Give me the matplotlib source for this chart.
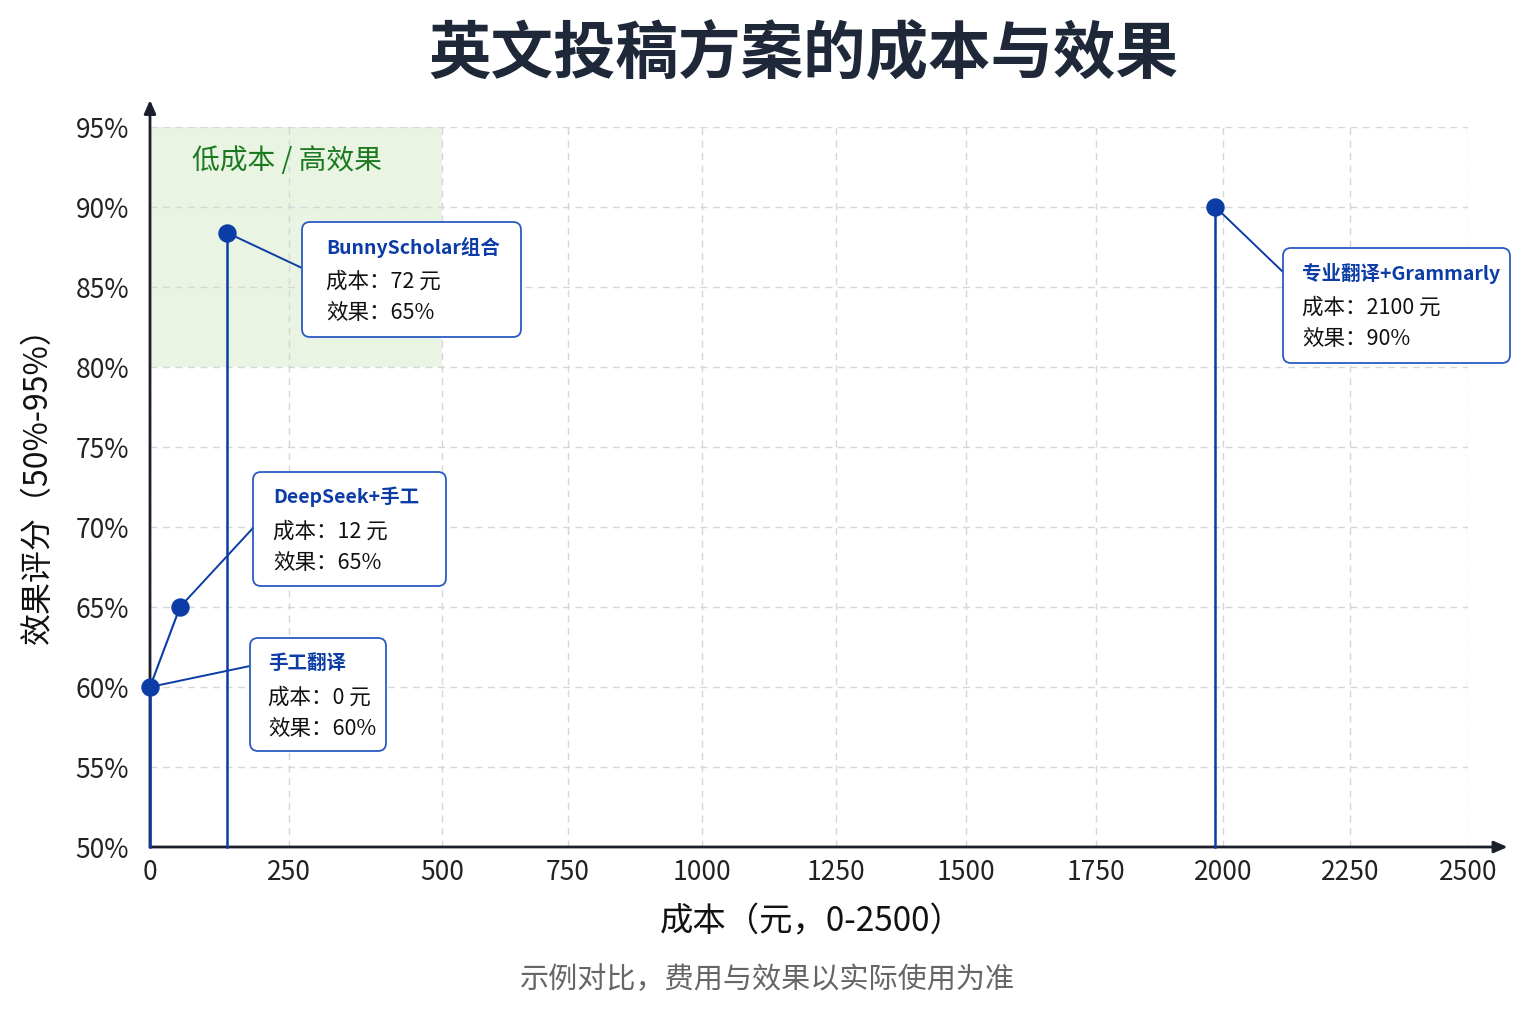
# 英文投稿方案的成本与效果 散点+标注图

import matplotlib
matplotlib.use("Agg")
import numpy as np
import matplotlib.pyplot as plt
from matplotlib.patches import FancyBboxPatch, Rectangle

plt.rcParams['font.family'] = ['Noto Sans CJK SC', 'DejaVu Sans']

# 数据（点的位置按图上读取）
names = ['手工翻译', 'DeepSeek+手工', 'BunnyScholar组合', '专业翻译+Grammarly']
costs = [0, 54, 138, 1985]
scores = [60, 65, 88.4, 90]
cost_labels = ['0 元', '12 元', '72 元', '2100 元']
score_labels = ['60%', '65%', '65%', '90%']
has_drop = [True, False, True, True]

x_ticks = [0, 250, 500, 750, 1000, 1250, 1500, 1750, 2000, 2250, 2500]
y_ticks = [50, 55, 60, 65, 70, 75, 80, 85, 90, 95]

# 原图横轴刻度间距不均匀，用分段线性刻度还原（像素位置）
x_tick_px = [150, 289, 442, 568, 702, 836, 966, 1096, 1223, 1350, 1468]

# 标注框位置（像素，左上角为原点）：左、上、右、下、连线在框上的 y、文字左边距
boxes = [
    (250, 638, 386, 751, 666, 18),
    (253, 472, 446, 586, 528, 20),
    (302, 222, 521, 337, 268, 24),
    (1283, 248, 1510, 363, 272, 19),
]

blue = '#0c3ca6'
edge_blue = '#2a5bc4'
W, H = 1536, 1024

fig = plt.figure(figsize=(15.36, 10.24), dpi=100)
ax = fig.add_axes([150 / W, 1 - 847 / H, 1318 / W, 720 / H])

_pos = np.array(x_tick_px, dtype=float)
_val = np.array(x_ticks, dtype=float)
ax.set_xscale('function', functions=(lambda v: np.interp(v, _val, _pos),
                                     lambda p: np.interp(p, _pos, _val)))
ax.set_xlim(0, 2500)
ax.set_ylim(50, 95)

# 低成本 / 高效果 区域
ax.add_patch(Rectangle((0, 80), 500, 15, facecolor='#e9f4e2', edgecolor='none', zorder=0))
ax.text(75, 92.9, '低成本 / 高效果', color='#1b7a1f', fontsize=20, va='center', ha='left')

# 网格
ax.set_xticks(x_ticks)
ax.set_yticks(y_ticks)
ax.set_xticklabels([str(v) for v in x_ticks])
ax.set_yticklabels(['%d%%' % v for v in y_ticks])
ax.minorticks_off()
ax.grid(True, linestyle=(0, (5, 4)), color='#d6d6d6', linewidth=1.0, zorder=0)
ax.tick_params(axis='x', length=0, labelsize=19, colors='#222222', pad=9)
ax.tick_params(axis='y', length=0, labelsize=19, colors='#222222', pad=15)

for s in ['top', 'right', 'left', 'bottom']:
    ax.spines[s].set_visible(False)

# 坐标轴箭头
ax.annotate('', xy=(1.03, 0), xycoords='axes fraction', xytext=(0, 0),
            arrowprops=dict(arrowstyle='-|>,head_length=0.8,head_width=0.35', color='#1a1f2b', lw=2,
                            shrinkA=0, shrinkB=0), annotation_clip=False)
ax.annotate('', xy=(0, 1.0375), xycoords='axes fraction', xytext=(0, 0),
            arrowprops=dict(arrowstyle='-|>,head_length=0.8,head_width=0.35', color='#1a1f2b', lw=2,
                            shrinkA=0, shrinkB=0), annotation_clip=False)

# 垂线与连线
for c, s, d in zip(costs, scores, has_drop):
    if d:
        ax.plot([c, c], [50, s], color=blue, lw=1.8, zorder=3, clip_on=False)
ax.plot(costs[:2], scores[:2], color=blue, lw=1.5, zorder=3, clip_on=False)

ax.scatter(costs, scores, s=150, color=blue, zorder=5, clip_on=False)


def px(x, y):
    return x / 100, (H - y) / 100


def fx(x, y):
    return x / W, 1 - y / H


# 标注框
for name, c, s, cl, sl, b in zip(names, costs, scores, cost_labels, score_labels, boxes):
    l, t, r, btm, cy, pad = b
    x0, y0 = px(l, btm)
    patch = FancyBboxPatch((x0, y0), (r - l) / 100, (btm - t) / 100,
                           boxstyle='round,pad=0,rounding_size=0.08',
                           transform=fig.dpi_scale_trans, facecolor='white',
                           edgecolor=edge_blue, lw=1.3, zorder=6)
    fig.patches.append(patch)
    ax.annotate('', xy=(c, s), xycoords='data', xytext=px(l, cy),
                textcoords=fig.dpi_scale_trans,
                arrowprops=dict(arrowstyle='-', color=blue, lw=1.4, shrinkA=0, shrinkB=0),
                annotation_clip=False, zorder=4)
    tx = l + pad
    fig.text(*fx(tx, t + 25), name, color=blue, fontsize=14, fontweight='bold',
             va='center', ha='left', zorder=7)
    fig.text(*fx(tx, t + 60), '成本：' + cl, color='#111111', fontsize=15.5,
             va='center', ha='left', zorder=7)
    fig.text(*fx(tx, t + 91), '效果：' + sl, color='#111111', fontsize=15.5,
             va='center', ha='left', zorder=7)

# 标题与轴标签
fig.text(*fx(803, 55), '英文投稿方案的成本与效果', fontsize=45, fontweight='bold',
         color='#1e2838', ha='center', va='center')
fig.text(*fx(812, 922), '成本（元，0-2500）', fontsize=24, color='#111111',
         ha='center', va='center')
fig.text(*fx(38, 478), '效果评分（50%-95%）', fontsize=23, color='#111111',
         ha='center', va='center', rotation=90)
fig.text(*fx(768, 980), '示例对比，费用与效果以实际使用为准', fontsize=21,
         color='#666666', ha='center', va='center')

fig.savefig('out.png', dpi=100, facecolor='white')
